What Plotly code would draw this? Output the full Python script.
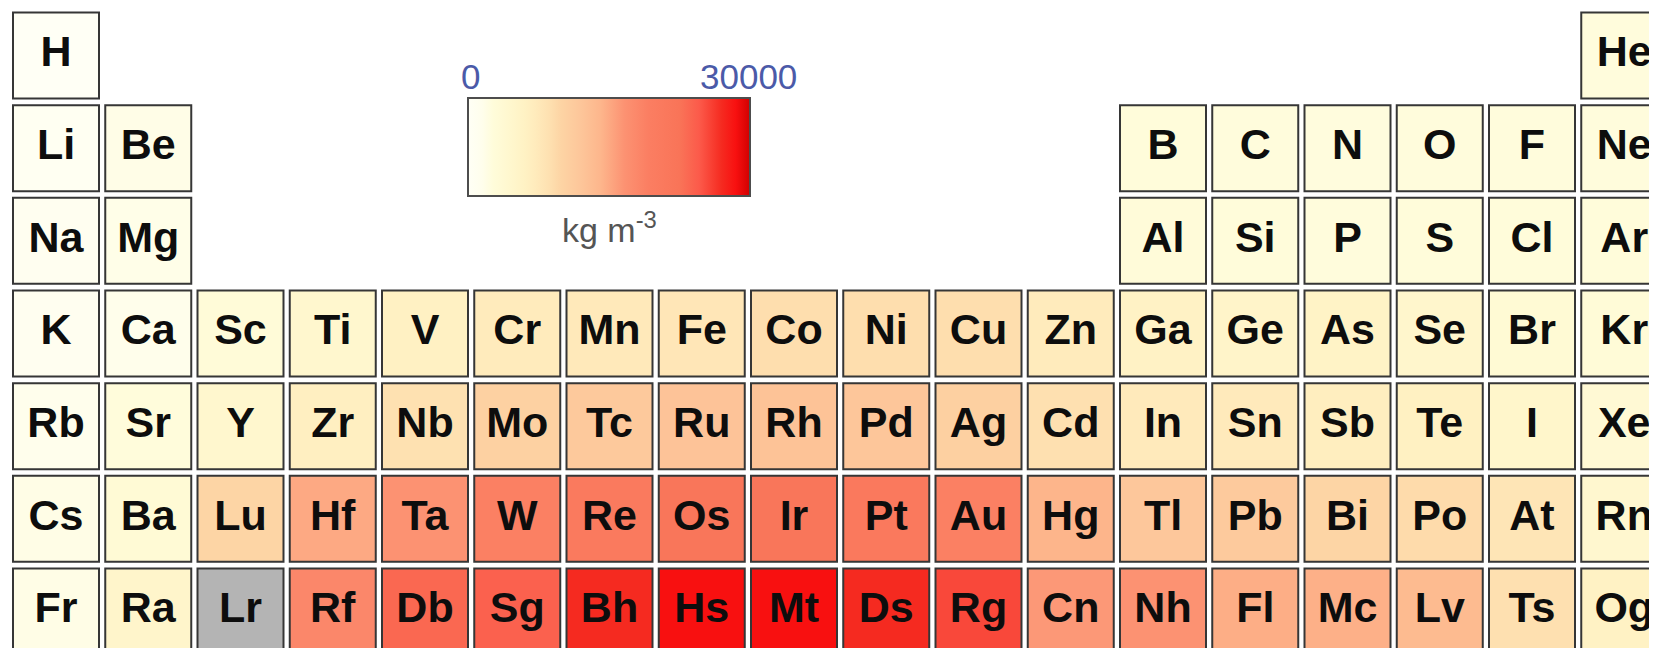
import plotly.graph_objects as go

# ---- data ----
symbols = [
    "H", "He",
    "Li", "Be", "B", "C", "N", "O", "F", "Ne",
    "Na", "Mg", "Al", "Si", "P", "S", "Cl", "Ar",
    "K", "Ca", "Sc", "Ti", "V", "Cr", "Mn", "Fe", "Co", "Ni", "Cu", "Zn", "Ga", "Ge", "As", "Se", "Br", "Kr",
    "Rb", "Sr", "Y", "Zr", "Nb", "Mo", "Tc", "Ru", "Rh", "Pd", "Ag", "Cd", "In", "Sn", "Sb", "Te", "I", "Xe",
    "Cs", "Ba", "Lu", "Hf", "Ta", "W", "Re", "Os", "Ir", "Pt", "Au", "Hg", "Tl", "Pb", "Bi", "Po", "At", "Rn",
    "Fr", "Ra", "Lr", "Rf", "Db", "Sg", "Bh", "Hs", "Mt", "Ds", "Rg", "Cn", "Nh", "Fl", "Mc", "Lv", "Ts", "Og",
]
period_row = (
    [0, 0]
    + [1] * 8
    + [2] * 8
    + [3] * 18
    + [4] * 18
    + [5] * 18
    + [6] * 18
)
group_col = (
    [0, 17]
    + [0, 1, 12, 13, 14, 15, 16, 17]
    + [0, 1, 12, 13, 14, 15, 16, 17]
    + list(range(18))
    + list(range(18))
    + list(range(18))
    + list(range(18))
)
# density, kg m^-3 (None = no data)
density = [
    88, 2600,
    535, 1848, 2700, 2600, 2500, 2600, 2600, 2600,
    968, 1738, 2900, 2700, 2600, 2700, 2700, 2700,
    856, 1550, 2985, 4507, 6110, 7140, 7470, 7874, 8900, 8908, 8920, 7140, 5904, 5323, 5727, 4819, 3600, 3100,
    1532, 2630, 4472, 6511, 8570, 10280, 11500, 12370, 12450, 12023, 10490, 8650, 7310, 7310, 6697, 6240, 4940, 3640,
    1879, 3510, 9841, 15000, 16650, 19000, 20500, 21800, 21800, 20800, 19000, 14190, 11850, 11340, 9780, 9196, 8000, 4400,
    1870, 5000, None, 18000, 23500, 24000, 27000, 28500, 28500, 27000, 25500, 16200, 16700, 14700, 14500, 13500, 8700, 6000,
]
scale_min, scale_max = 0, 30000
unit_label = "kg m<sup>-3</sup>"

colorscale = [
    [0.00, "#FFFFF6"], [0.05, "#FFFEEC"], [0.09, "#FFFCDA"], [0.15, "#FFF7CE"],
    [0.20, "#FFF2C4"], [0.24, "#FFEBBC"], [0.29, "#FEE0B0"], [0.33, "#FDD4A4"],
    [0.40, "#FDC69A"], [0.47, "#FDB68C"], [0.555, "#FC9272"], [0.64, "#FB7E62"],
    [0.75, "#F97458"], [0.82, "#FC5A4A"], [0.90, "#F52A20"], [0.95, "#F81010"],
    [1.00, "#D00000"],
]

W, H = 1657, 648
OFF = 8  # browser default body margin; figure is drawn 8px right/down
# layout geometry (screen pixels)
pitch_x, pitch_y = 92.25, 92.67
x0_px, y0_px = 56.0 - OFF, 55.5 - OFF
cell_px = 86

known = [i for i, d in enumerate(density) if d is not None]
unknown = [i for i, d in enumerate(density) if d is None]

fig = go.Figure()

cb_center_px, cb_len_px = 609 - OFF, 282
cb_top_px, cb_thick_px = 98 - OFF, 98

sym_font = dict(family="Liberation Sans", size=43, color="#0d0d0d", weight="bold")

fig.add_trace(go.Scatter(
    x=[group_col[i] for i in known],
    y=[period_row[i] for i in known],
    text=[symbols[i] for i in known],
    mode="markers+text",
    marker=dict(
        symbol="square", size=cell_px,
        color=[density[i] for i in known],
        colorscale=colorscale, cmin=scale_min, cmax=scale_max,
        line=dict(color="#363636", width=2),
        showscale=True,
        colorbar=dict(
            orientation="h",
            x=cb_center_px / W, xanchor="center",
            y=1 - cb_top_px / H, yanchor="top",
            len=cb_len_px, lenmode="pixels",
            thickness=cb_thick_px, thicknessmode="pixels",
            xpad=0, ypad=0,
            outlinecolor="#4d4d4d", outlinewidth=2,
            tickmode="array", tickvals=[], ticks="",
            showticklabels=True,
            tickfont=dict(family="Liberation Sans", size=12, color="#4B5AA8"),
        ),
    ),
    textposition="middle center",
    textfont=sym_font,
    hoverinfo="text",
    showlegend=False,
))

fig.add_trace(go.Scatter(
    x=[group_col[i] for i in unknown],
    y=[period_row[i] for i in unknown],
    text=[symbols[i] for i in unknown],
    mode="markers+text",
    marker=dict(symbol="square", size=cell_px, color="#B4B4B4",
                line=dict(color="#363636", width=2)),
    textposition="middle center",
    textfont=sym_font,
    hoverinfo="text",
    showlegend=False,
))

# colorbar end labels above the bar and unit title below it
cb_left = (cb_center_px - cb_len_px / 2 + 3) / W
cb_right = (cb_center_px + cb_len_px / 2 - 2) / W
for val, xp in [(scale_min, cb_left), (scale_max, cb_right)]:
    fig.add_annotation(
        x=xp, y=1 - (cb_top_px - 22) / H, xref="paper", yref="paper",
        text=str(val), showarrow=False, xanchor="center", yanchor="middle",
        font=dict(family="Liberation Sans", size=35, color="#4B5AA8"),
    )
fig.add_annotation(
    x=cb_center_px / W, y=1 - (cb_top_px + cb_thick_px + 31) / H,
    xref="paper", yref="paper", text=unit_label, showarrow=False,
    xanchor="center", yanchor="middle",
    font=dict(family="Liberation Sans", size=34, color="#555555"),
)

fig.update_xaxes(range=[(0 - x0_px) / pitch_x, (W - x0_px) / pitch_x], visible=False)
fig.update_yaxes(range=[(H - y0_px) / pitch_y, (0 - y0_px) / pitch_y], visible=False)
fig.update_layout(
    width=W, height=H,
    margin=dict(l=0, r=0, t=0, b=0),
    paper_bgcolor="white", plot_bgcolor="white",
)
fig.write_html("out.html")
